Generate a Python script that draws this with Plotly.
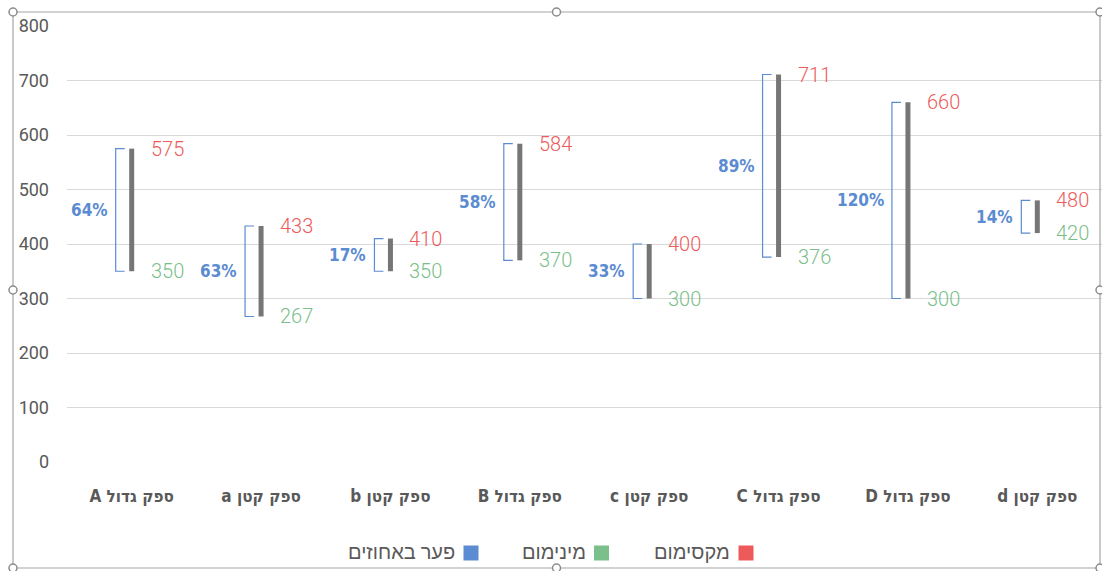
import plotly.graph_objects as go

# ---------------- data ----------------
categories = ["ספק גדול A", "ספק קטן a", "ספק קטן b", "ספק גדול B",
              "ספק קטן c", "ספק גדול C", "ספק גדול D", "ספק קטן d"]
max_values = [575, 433, 410, 584, 400, 711, 660, 480]
min_values = [350, 267, 350, 370, 300, 376, 300, 420]
gap_labels = ["64%", "63%", "17%", "58%", "33%", "89%", "120%", "14%"]
y_ticks = [0, 100, 200, 300, 400, 500, 600, 700, 800]
legend_names = ["מקסימום", "מינימום", "פער באחוזים"]

# ---------------- style ----------------
RED = "#EE5A5A"
GREEN = "#7BBF8A"
BLUE = "#5B8BD0"
BAR = "#767676"
TXT = "#595959"
W, H = 1102, 571
ML, MR, MT, MB = 67, 0, 26, 109
PW = W - ML - MR
PH = H - MT - MB
n = len(categories)
cat_px = PW / n


def px_x(p):
    return (p - ML) / PW


def px_y(p):
    return (H - MB - p) / PH


def rtl(s):
    return "\u202B" + s + "\u202C"


xs = list(range(n))
fig = go.Figure()

# gray range bars
bx, by = [], []
for i in xs:
    bx += [i, i, None]
    by += [min_values[i], max_values[i], None]
fig.add_trace(go.Scatter(x=bx, y=by, mode="lines", line=dict(color=BAR, width=5),
                         hoverinfo="skip", showlegend=False))

# blue brackets
o1 = -16 / cat_px
o2 = -7 / cat_px
kx, ky = [], []
for i in xs:
    kx += [i + o2, i + o1, i + o1, i + o2, None]
    ky += [max_values[i], max_values[i], min_values[i], min_values[i], None]
fig.add_trace(go.Scatter(x=kx, y=ky, mode="lines", line=dict(color=BLUE, width=1.2),
                         hoverinfo="skip", showlegend=False))

ann = []
num_font = dict(family="Roboto, Lato, sans-serif", size=20, weight=300)
for i in xs:
    ann.append(dict(x=i, y=max_values[i], xref="x", yref="y", text=str(max_values[i]),
                    showarrow=False, xanchor="left", yanchor="middle", xshift=17,
                    font=dict(color=RED, **num_font)))
    ann.append(dict(x=i, y=min_values[i], xref="x", yref="y", text=str(min_values[i]),
                    showarrow=False, xanchor="left", yanchor="middle", xshift=17,
                    font=dict(color=GREEN, **num_font)))
    ann.append(dict(x=i, y=(max_values[i] + min_values[i]) / 2, xref="x", yref="y",
                    text=gap_labels[i], showarrow=False, xanchor="right", yanchor="middle",
                    xshift=-22,
                    font=dict(color=BLUE, size=17, family="DejaVu Sans Condensed, DejaVu Sans",
                              weight="bold")))

# legend (RTL: square to the right of its text)
legend_colors = [RED, GREEN, BLUE]
legend_square_px = [746, 601.5, 471]
shapes = []
for name, col, sx in zip(legend_names, legend_colors, legend_square_px):
    shapes.append(dict(type="rect", xref="paper", yref="paper",
                       x0=px_x(sx - 7.5), x1=px_x(sx + 7.5),
                       y0=px_y(553 + 7.5), y1=px_y(553 - 7.5),
                       fillcolor=col, line=dict(width=0)))
    ann.append(dict(x=px_x(sx - 14), y=px_y(552), xref="paper", yref="paper",
                    text=rtl(name), showarrow=False, xanchor="right", yanchor="middle",
                    font=dict(color=TXT, size=20, family="Roboto, Noto Sans, sans-serif")))

# chart frame + selection handles
FL, FT, FR, FB = 13, 12, 1100, 568
shapes.append(dict(type="rect", xref="paper", yref="paper",
                   x0=px_x(FL), x1=px_x(FR), y0=px_y(FB), y1=px_y(FT),
                   line=dict(color="#A6A6A6", width=1.2), fillcolor="rgba(0,0,0,0)"))
for hx, hy in [(FL, FT), ((FL + FR) / 2, FT), (FR, FT), (FL, (FT + FB) / 2),
               (FR, (FT + FB) / 2), (FL, FB), ((FL + FR) / 2, FB), (FR, FB)]:
    shapes.append(dict(type="circle", xref="paper", yref="paper",
                       xsizemode="pixel", ysizemode="pixel",
                       xanchor=px_x(hx), yanchor=px_y(hy),
                       x0=-4, x1=4, y0=-4, y1=4,
                       line=dict(color="#8C8C8C", width=1.5), fillcolor="white"))

fig.update_layout(
    width=W, height=H,
    margin=dict(l=ML, r=MR, t=MT, b=MB),
    paper_bgcolor="white", plot_bgcolor="white",
    showlegend=False,
    annotations=ann, shapes=shapes,
    xaxis=dict(range=[-0.5, n - 0.5], tickmode="array", tickvals=xs,
               ticktext=[rtl(c) for c in categories], showgrid=False, zeroline=False,
               showline=False, ticks="", ticklabelstandoff=22,
               tickfont=dict(color=TXT, size=17, family="DejaVu Sans Condensed, DejaVu Sans",
                             weight="bold")),
    yaxis=dict(range=[0, 800], tickmode="array", tickvals=y_ticks, showgrid=True,
               gridcolor="#D9D9D9", gridwidth=1.3, zeroline=False, showline=False,
               ticks="", ticklabelstandoff=17,
               tickfont=dict(color=TXT, size=18, family="Roboto, sans-serif")),
)

fig.write_html("out.html", config={"displayModeBar": False},
               post_script="document.body.style.margin='0px';document.body.style.overflow='hidden';")
